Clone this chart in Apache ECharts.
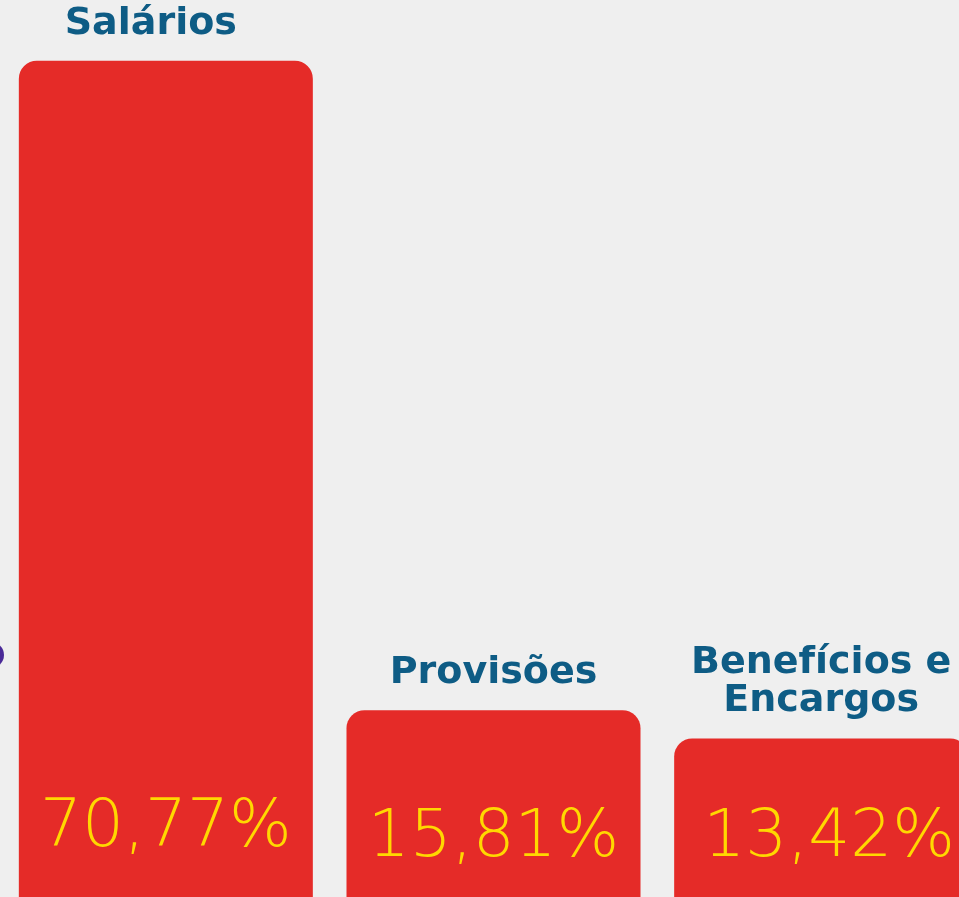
<!DOCTYPE html>
<html>
<head>
<meta charset="utf-8">
<script src="https://cdn.jsdelivr.net/npm/echarts@6/dist/echarts.min.js"></script>
<style>
  html, body { margin: 0; padding: 0; background: #efefef; overflow: hidden; }
  #main { width: 985px; height: 897px; }
</style>
</head>
<body>
<div id="main"></div>
<script>
var categories = ['Salários', 'Provisões', 'Benefícios e\nEncargos']
var values = [70.77, 15.81, 13.42]
var valueLabels = ['70,77%', '15,81%', '13,42%']

// the chart is a little wider than the window so the last bar runs off the edge
var chart = echarts.init(document.getElementById('main'))

var option = {
  backgroundColor: '#efefef',
  animation: false,
  grid: { left: 2, right: 0, top: 0, bottom: -2 },
  xAxis: {
    type: 'category',
    data: categories,
    show: false
  },
  yAxis: {
    type: 'value',
    min: 0,
    max: 75.9,
    show: false
  },
  graphic: [
    { type: 'circle', shape: { cx: -9, cy: 655, r: 13 }, style: { fill: '#4a2a98' } }
  ],
  series: [
    {
      type: 'bar',
      barWidth: 294,
      data: values.map(function (v, i) {
        return {
          value: v,
          label: { distance: i === 0 ? 35 : 25, offset: [i === 2 ? 8 : 0, 0] }
        }
      }),
      itemStyle: { color: '#e52b28', borderRadius: [18, 18, 0, 0] },
      label: {
        show: true,
        position: 'insideBottom',
        formatter: function (p) { return valueLabels[p.dataIndex] },
        color: '#ffd800',
        fontFamily: 'DejaVu Sans',
        fontWeight: 200,
        fontSize: 66
      }
    },
    {
      // transparent overlay to carry the category names above each bar
      type: 'bar',
      barWidth: 294,
      barGap: '-100%',
      silent: true,
      data: values.map(function (v, i) {
        return {
          value: v,
          label: { offset: [i === 0 ? -15 : 0, 0] }
        }
      }),
      itemStyle: { color: 'rgba(0,0,0,0)' },
      label: {
        show: true,
        position: 'top',
        distance: 18,
        formatter: function (p) { return categories[p.dataIndex] },
        color: '#0e5c85',
        fontFamily: 'DejaVu Sans',
        fontWeight: 'bold',
        fontSize: 38,
        lineHeight: 38,
        align: 'center'
      }
    }
  ]
}

option && chart.setOption(option)
</script>
</body>
</html>
